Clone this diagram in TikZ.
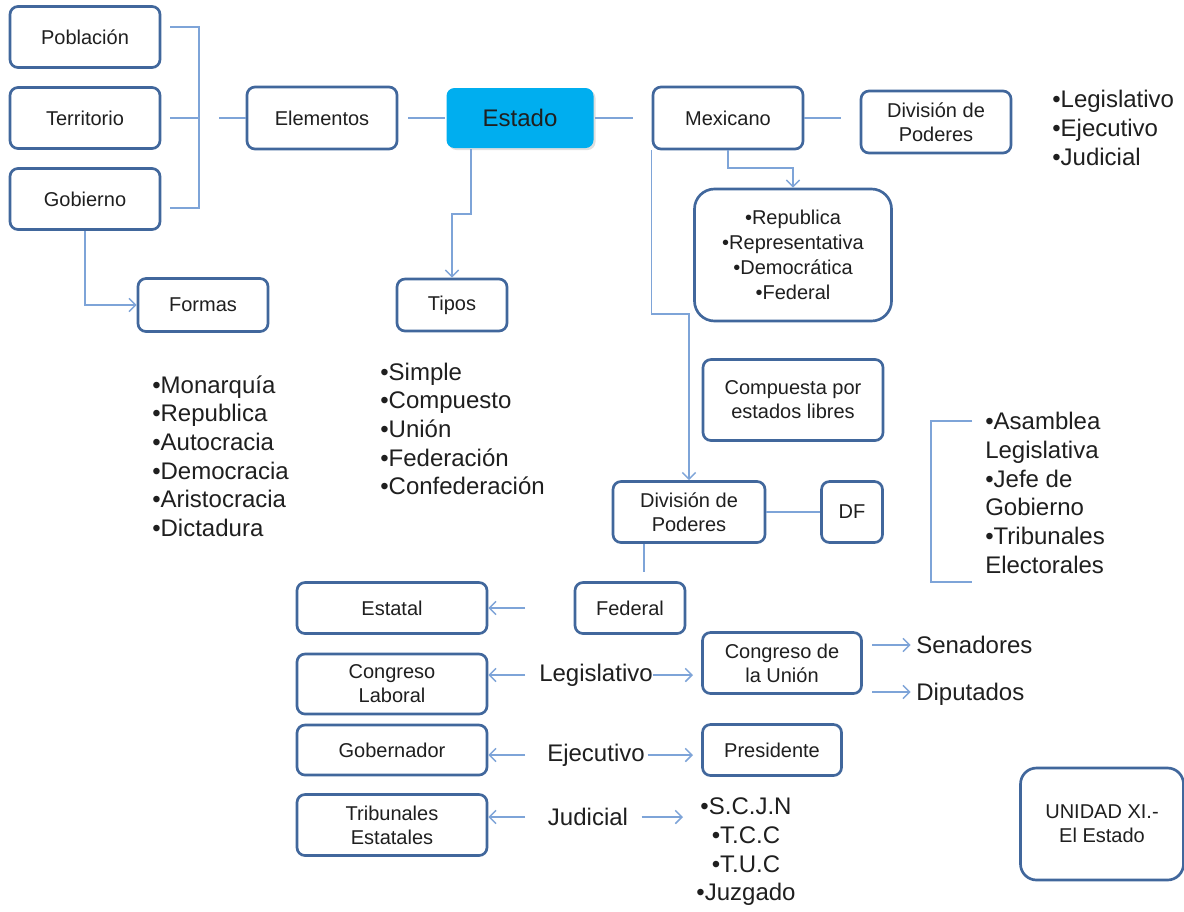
\documentclass[tikz,border=0pt]{standalone}
\usepackage{fontspec}
\setmainfont{Liberation Sans}
\usetikzlibrary{arrows.meta,shadows}
\definecolor{bordc}{HTML}{41679C}
\definecolor{connc}{HTML}{7EA4D8}
\definecolor{estc}{HTML}{00AEEF}
\definecolor{txtc}{HTML}{1F1F1F}
\def\pxu{0.75pt}
\begin{document}
\begin{tikzpicture}[x=0.75pt,y=-0.75pt,
  box/.style={draw=bordc, line width=2pt, rounded corners=6pt, fill=white, align=center,
    inner sep=0pt, text=txtc, font=\fontsize{15}{18}\selectfont},
  conn/.style={draw=connc, line width=1.1pt},
  arr/.style={-{Straight Barb[length=5pt,width=10pt]}},
  lst/.style={font=\fontsize{18}{21.5}\selectfont, align=left, inner sep=0pt, text=txtc},
  big/.style={font=\fontsize{18}{21.6}\selectfont, inner sep=0pt, text=txtc}]
\useasboundingbox (0,0) rectangle (1184,911);
\fill[white] (0,0) rectangle (1184,911);

% left column
\node[box, minimum width=150*\pxu, minimum height=61*\pxu] (pob) at (85,37) {Población};
\node[box, minimum width=150*\pxu, minimum height=61*\pxu] (ter) at (85,118) {Territorio};
\node[box, minimum width=150*\pxu, minimum height=61*\pxu] (gob) at (85,199) {Gobierno};
\node[box, minimum width=150*\pxu, minimum height=62*\pxu] (ele) at (322,118) {Elementos};
\node[box, draw=none, fill=estc, drop shadow={opacity=0.25,shadow xshift=1.5pt,shadow yshift=-1.5pt},
  minimum width=147*\pxu, minimum height=60*\pxu, font=\fontsize{18}{21}\selectfont] (est) at (520,118) {Estado};
\node[box, minimum width=150*\pxu, minimum height=62*\pxu] (mex) at (728,118) {Mexicano};
\node[box, minimum width=150*\pxu, minimum height=62*\pxu] (div1) at (936,122) {División de\\Poderes};
\node[box, rounded corners=15pt, minimum width=197*\pxu, minimum height=132*\pxu,
  font=\fontsize{15}{18.75}\selectfont] (rep) at (793,255)
  {•Republica\\•Representativa\\•Democrática\\•Federal};
\node[box, minimum width=130*\pxu, minimum height=53*\pxu] (formas) at (203,305) {Formas};
\node[box, minimum width=110*\pxu, minimum height=52*\pxu] (tipos) at (452,305) {Tipos};
\node[box, minimum width=180*\pxu, minimum height=81*\pxu] (com) at (793,400) {Compuesta por\\estados libres};
\node[box, minimum width=152*\pxu, minimum height=61*\pxu] (div2) at (689,512) {División de\\Poderes};
\node[box, minimum width=61*\pxu, minimum height=61*\pxu] (df) at (852,512) {DF};
\node[box, minimum width=110*\pxu, minimum height=51*\pxu] (fed) at (630,608) {Federal};
\node[box, minimum width=190*\pxu, minimum height=51*\pxu] (estatal) at (392,608) {Estatal};
\node[box, minimum width=190*\pxu, minimum height=60*\pxu] (cl) at (392,684) {Congreso\\Laboral};
\node[box, minimum width=159*\pxu, minimum height=61*\pxu] (cu) at (782,663) {Congreso de\\la Unión};
\node[box, minimum width=190*\pxu, minimum height=50*\pxu] (gobr) at (392,750) {Gobernador};
\node[box, minimum width=139*\pxu, minimum height=51*\pxu] (pres) at (772,750) {Presidente};
\node[box, minimum width=190*\pxu, minimum height=61*\pxu] (trib) at (392,825) {Tribunales\\Estatales};
\node[box, rounded corners=12pt, minimum width=163*\pxu, minimum height=112*\pxu] (uni) at (1102,824) {UNIDAD XI.-\\El Estado};

% lists
\node[lst, anchor=west] (lforma) at (152,456) {•Monarquía\\•Republica\\•Autocracia\\•Democracia\\•Aristocracia\\•Dictadura};
\node[lst, anchor=west] (ltipo) at (380,429) {•Simple\\•Compuesto\\•Unión\\•Federación\\•Confederación};
\node[lst, anchor=west] (lpod) at (1052,128) {•Legislativo\\•Ejecutivo\\•Judicial};
\node[lst, anchor=west] (ldf) at (985,493) {•Asamblea\\Legislativa\\•Jefe de\\Gobierno\\•Tribunales\\Electorales};
\node[lst, align=center] (ljud) at (746,852) {•S.C.J.N\\•T.C.C\\•T.U.C\\•Juzgado};
\node[big] (legis) at (596,675) {Legislativo};
\node[big] (ejec) at (596,755) {Ejecutivo};
\node[big] (judi) at (588,817) {Judicial};
\node[big, anchor=west] (sen) at (916,645) {Senadores};
\node[big, anchor=west] (dip) at (916,694) {Diputados};

% connectors
\coordinate (b1) at (170,27);
\coordinate (b2) at (170,118);
\coordinate (b3) at (170,208);
\coordinate (bx) at (199,118);
\coordinate (bo) at (219,118);
\draw[conn] (b1) -| (bx |- b3) -- (b3);
\draw[conn] (b2) -- (bx);
\draw[conn] (bo) -- (ele.west);
\draw[conn,arr] (gob.south) |- (formas.west);
\draw[conn, shorten <=7.5pt] (ele.east) -- (est.west);
\draw[conn, shorten >=14.25pt] (est.east) -- (mex.west);
\coordinate (t1) at (452,214);
\draw[conn,arr] ([xshift=-36.75pt]est.south) |- (t1) -- (tipos.north);
\draw[conn, shorten >=14.25pt] (mex.east) -- (mex.east -| div1.west);
\coordinate (r1) at (793,168);
\draw[conn,arr] (mex.south) |- (r1) -- (rep.north);
\coordinate (d1) at (689,314);
\draw[conn,arr] (mex.south west) |- (d1) -- (div2.north);
\draw[conn] (div2.east) -- (df.west);
\coordinate (f1) at (644,572);
\draw[conn] (div2.south -| f1) -- (f1);
\coordinate (k1) at (972,421);
\coordinate (k2) at (972,582);
\draw[conn] (k1) -- (931,421) -- (931,582) -- (k2);

\coordinate (a1) at (525,608);
\coordinate (a2) at (525,675);
\coordinate (a3) at (525,755);
\coordinate (a4) at (525,817);
\draw[conn,arr] (a1) -- (a1 -| estatal.east);
\draw[conn,arr] (a2) -- (a2 -| cl.east);
\draw[conn,arr] (a3) -- (a3 -| gobr.east);
\draw[conn,arr] (a4) -- (a4 -| trib.east);
\coordinate (e2) at (693,675);
\coordinate (e3) at (693,755);
\coordinate (e4) at (683,817);
\draw[conn,arr] (legis.east) -- (e2);
\draw[conn,arr] ([xshift=2pt]ejec.east |- e3) -- (e3);
\draw[conn,arr] ([xshift=10pt]judi.east |- e4) -- (e4);
\coordinate (s1) at (872,645);
\coordinate (s2) at (872,692);
\draw[conn,arr] (s1) -- ([xshift=-4pt]sen.west);
\draw[conn,arr] (s2) -- ([xshift=-4pt]s2 -| dip.west);
\end{tikzpicture}
\end{document}
